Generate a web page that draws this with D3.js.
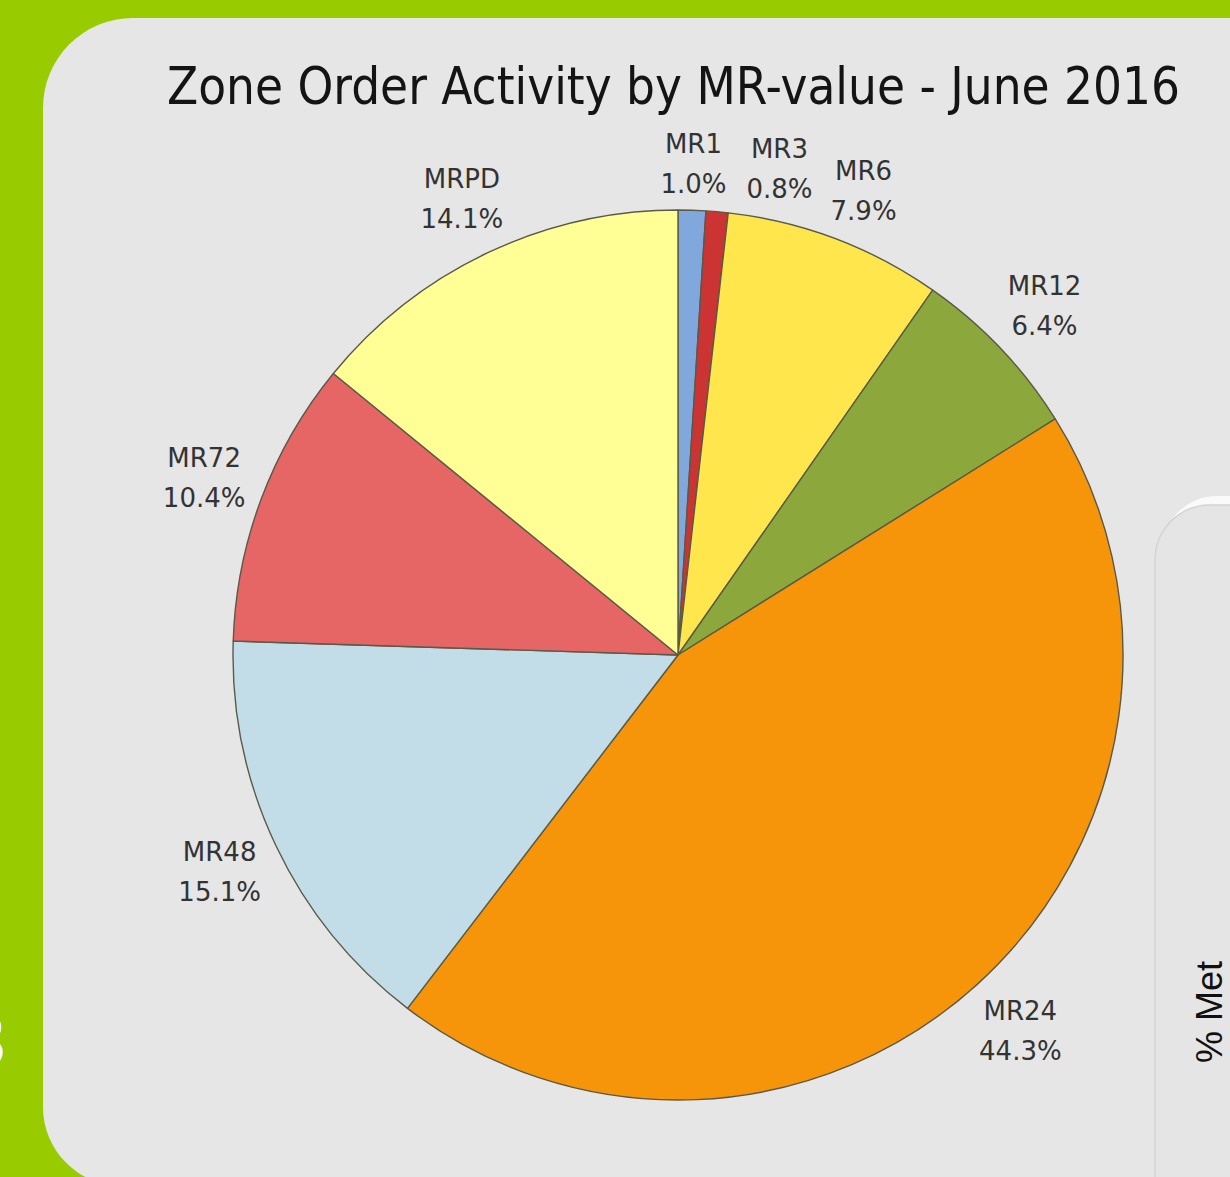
<!DOCTYPE html>
<html>
<head>
<meta charset="utf-8">
<script src="https://cdn.jsdelivr.net/npm/d3@7"></script>
<style>
  html, body { margin: 0; padding: 0; background: #99cc00; }
  svg { display: block; }
</style>
</head>
<body>
<div id="chart"></div>
<script>
// data
var categories = ['MR1', 'MR3', 'MR6', 'MR12', 'MR24', 'MR48', 'MR72', 'MRPD'];
var shares = [1.0, 0.8, 7.9, 6.4, 44.3, 15.1, 10.4, 14.1];
var sliceColors = ['#80a8dc', '#cc3333', '#ffe64d', '#8ca83c', '#f7950a', '#c2dce8', '#e66565', '#ffff96'];
var titleText = 'Zone Order Activity by MR-value - June 2016';

var width = 1230;
var height = 1177;
var cx = 678, cy = 655, radius = 445;
var labelGap = 10;
var minLabelSep = 10 * Math.PI / 180;

var svg = d3.select('#chart').append('svg')
  .attr('width', width)
  .attr('height', height);

// green slide background
svg.append('rect')
  .attr('width', width)
  .attr('height', height)
  .attr('fill', '#99cc00');

// the stray white glyph cut off at the left edge (cut off in the original too)
svg.append('text')
  .attr('x', 6)
  .attr('y', 1066)
  .attr('text-anchor', 'end')
  .style('font-family', 'Liberation Sans, Arial, sans-serif')
  .style('font-size', '74px')
  .style('fill', '#ffffff')
  .text('3');

// grey card, rounded on the left corners
var cardLeft = 43, cardTop = 18, cardBottom = 1186, rTop = 90, rBot = 79;
svg.append('path')
  .attr('d', 'M' + (width + 10) + ',' + cardTop +
    ' L' + (cardLeft + rTop) + ',' + cardTop +
    ' A' + rTop + ',' + rTop + ' 0 0 0 ' + cardLeft + ',' + (cardTop + rTop) +
    ' L' + cardLeft + ',' + (cardBottom - rBot) +
    ' A' + rBot + ',' + rBot + ' 0 0 0 ' + (cardLeft + rBot) + ',' + cardBottom +
    ' L' + (width + 10) + ',' + cardBottom + ' Z')
  .attr('fill', '#e6e6e6');

// second card peeking in on the right
svg.append('rect')
  .attr('x', 1162).attr('y', 496)
  .attr('width', 200).attr('height', 800)
  .attr('rx', 55)
  .attr('fill', '#ffffff')
  .attr('opacity', 0.8);
svg.append('rect')
  .attr('x', 1155).attr('y', 505)
  .attr('width', 200).attr('height', 800)
  .attr('rx', 55)
  .attr('fill', '#e5e5e5')
  .attr('stroke', '#d4d4d4')
  .attr('stroke-width', 1.5);

svg.append('text')
  .attr('transform', 'translate(1222,1012) rotate(-90)')
  .attr('text-anchor', 'middle')
  .style('font-family', 'Liberation Sans, Arial, sans-serif')
  .style('font-size', '36px')
  .style('fill', '#111')
  .text('% Met');

// title
svg.append('text')
  .attr('x', 167)
  .attr('y', 104)
  .attr('textLength', 1013)
  .attr('lengthAdjust', 'spacingAndGlyphs')
  .style('font-family', 'DejaVu Sans Condensed, DejaVu Sans, sans-serif')
  .style('font-size', '52px')
  .style('fill', '#141414')
  .text(titleText);

// pie
var data = categories.map(function (c, i) {
  return { name: c, value: shares[i], color: sliceColors[i] };
});

var pie = d3.pie()
  .sort(null)
  .value(function (d) { return d.value; });

var arc = d3.arc()
  .innerRadius(0)
  .outerRadius(radius);

var arcs = pie(data);

var g = svg.append('g')
  .attr('transform', 'translate(' + cx + ',' + cy + ')');

g.selectAll('path.slice')
  .data(arcs)
  .enter()
  .append('path')
  .attr('class', 'slice')
  .attr('d', arc)
  .attr('fill', function (d) { return d.data.color; })
  .attr('stroke', '#5a5a48')
  .attr('stroke-width', 1.4)
  .attr('stroke-linejoin', 'round');

// label angles, pushed apart where small slices crowd together
var angles = arcs.map(function (d) { return (d.startAngle + d.endAngle) / 2; });
for (var i = 1; i < angles.length; i++) {
  if (angles[i] - angles[i - 1] < minLabelSep) {
    angles[i] = angles[i - 1] + minLabelSep;
  }
}

var pct = d3.format('.1f');

g.selectAll('text.label')
  .data(arcs)
  .enter()
  .append('text')
  .attr('class', 'label')
  .attr('text-anchor', 'middle')
  .style('font-family', 'DejaVu Sans, Verdana, sans-serif')
  .style('font-size', '26px')
  .style('fill', '#333')
  .each(function (d, i) {
    var t = d3.select(this);
    t.append('tspan').attr('x', 0).attr('dy', 0).text(d.data.name);
    t.append('tspan').attr('x', 0).attr('dy', 40).text(pct(d.data.value) + '%');
    var box = this.getBBox();
    var a = angles[i];
    var s = Math.sin(a), c = Math.cos(a);
    var dist = radius + labelGap + Math.abs(s) * box.width / 2 + Math.abs(c) * box.height / 2;
    var px = dist * s;
    var py = -dist * c;
    var bx = box.x + box.width / 2;
    var by = box.y + box.height / 2;
    t.attr('transform', 'translate(' + (px - bx) + ',' + (py - by) + ')');
  });
</script>
</body>
</html>
